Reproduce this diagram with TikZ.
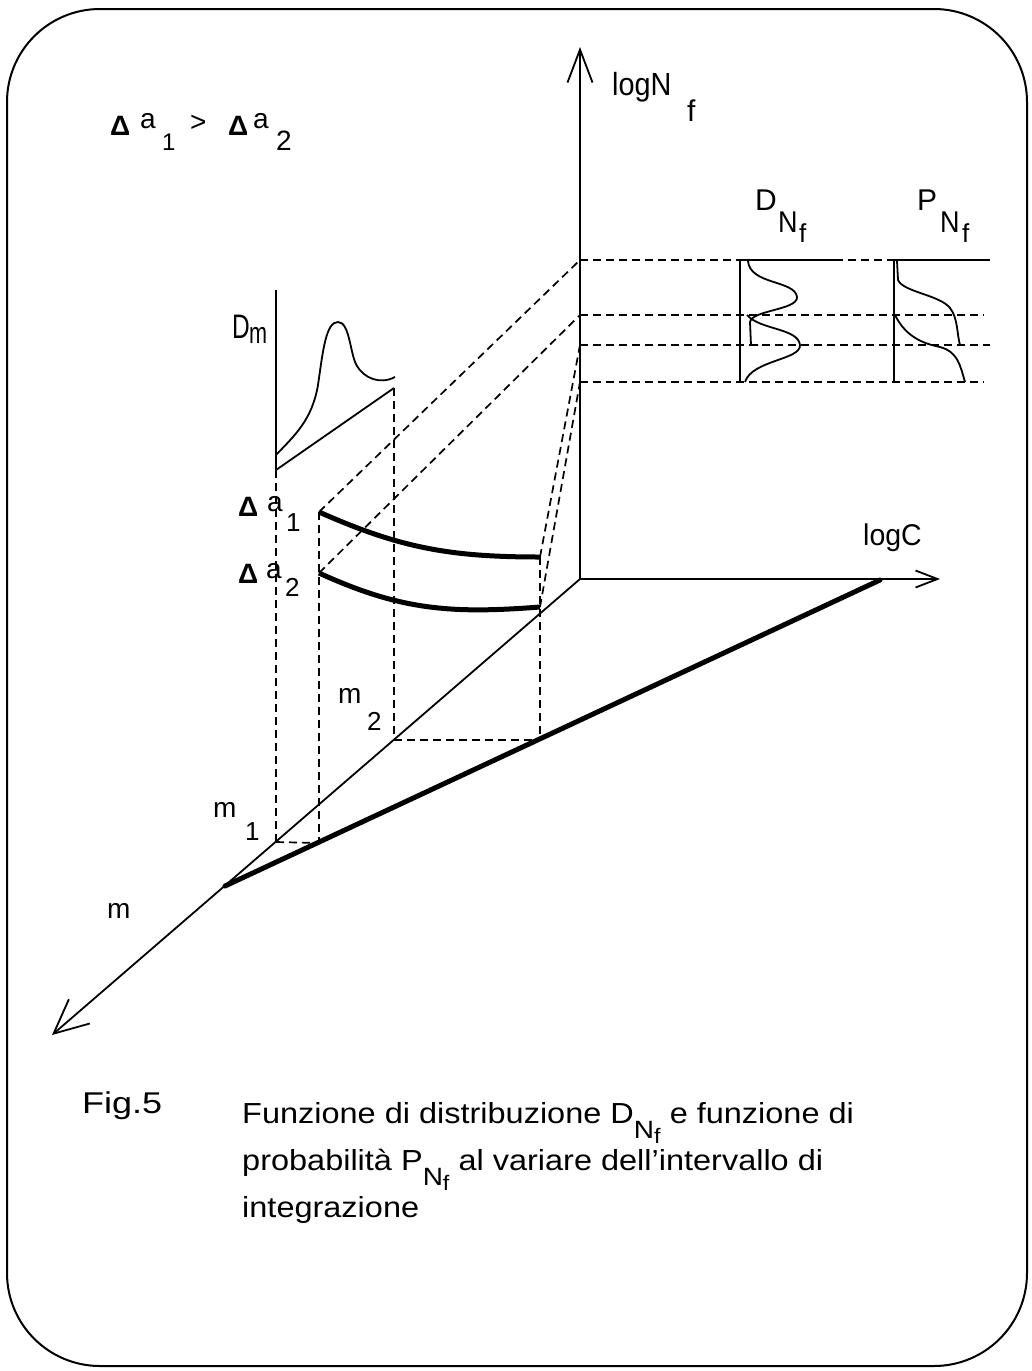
\documentclass[tikz,border=0pt]{standalone}
\usepackage{fontspec}
\setmainfont{Liberation Sans}
\usetikzlibrary{arrows.meta}
\newcommand\sbx[2]{\raisebox{#1}{#2}}
\newcommand\hsc[2]{\scalebox{#1}[1]{#2}}
\newcommand\capNf{\sbx{-15pt}{\fontsize{25}{28}\selectfont N\sbx{-5pt}{\fontsize{21}{24}\selectfont f}}}
\begin{document}
\begin{tikzpicture}[x=1pt,y=-1pt,
  axisline/.style={line width=1.8pt},
  fine/.style={line width=1.8pt},
  heavy/.style={line width=5pt},
  dashline/.style={line width=1.7pt, dash pattern=on 8pt off 5pt},
  txt/.style={inner sep=0pt, anchor=base west},
  f24/.style={txt, font=\fontsize{24}{28}\selectfont},
  f26/.style={txt, font=\fontsize{26}{30}\selectfont},
  f28/.style={txt, font=\fontsize{28}{34}\selectfont},
  f30/.style={txt, font=\fontsize{30}{36}\selectfont},
  f32/.style={txt, font=\fontsize{32}{38}\selectfont},
  f34/.style={txt, font=\fontsize{34}{40}\selectfont},
  frame/.style={line width=2pt, rounded corners=93pt}]
\useasboundingbox (0,0) rectangle (1031,1371);
\draw[frame] (7,9) rectangle (1027,1366);

% key points
\coordinate (O) at (580,579);
\coordinate (Ntip) at (580,47);
\coordinate (Ctip) at (940,579);
\coordinate (Mtip) at (52,1035);
\coordinate (T0) at (225,886);
\coordinate (T1) at (880,580);
\coordinate (DmT) at (276,290);
\coordinate (DmB) at (276,470);
\coordinate (DmE) at (394,388);
\coordinate (M1) at (276,842);
\coordinate (B1) at (319,843);
\coordinate (M2) at (394,740);
\coordinate (B2) at (540,740);
\coordinate (A1) at (319,512);
\coordinate (A1e) at (540,557);
\coordinate (A2) at (319,573);
\coordinate (A2e) at (540,607);
\coordinate (L1) at (580,260);
\coordinate (L2) at (580,315);
\coordinate (L3) at (580,345);
\coordinate (L4) at (580,382);
\coordinate (DB1) at (740,260);
\coordinate (DB4) at (740,382);
\coordinate (DE1) at (835,260);
\coordinate (PB1) at (894,260);
\coordinate (PB4) at (894,382);
\coordinate (PE1) at (990,260);
\coordinate (R2) at (984,315);
\coordinate (R3) at (990,345);
\coordinate (R4) at (984,382);

% axes
\draw[axisline, -{Straight Barb[length=33pt,width=25pt]}] (O) -- (Ntip);
\draw[axisline, -{Straight Barb[length=22pt,width=17pt]}] (O) -- (Ctip);
\draw[axisline, -{Straight Barb[length=34pt,width=32pt]}] (O) -- (Mtip);

% thick line in m-logC plane
\draw[heavy, line cap=round] (T0) -- (T1);

% projections to the m-logC plane
\draw[dashline] (M1) -- (B1);
\draw[dashline] (M2) -- (B2);
\draw[dashline] (DmB) -- (M1);
\draw[dashline] (A1) -- (B1);
\draw[dashline] (DmE) -- (M2);
\draw[dashline] (A1e) -- (B2);

% D_m distribution
\draw[fine] (DmT) -- (DmB) -- (DmE);
\draw[fine] (276,455) .. controls (295,435) and (312,420) .. (318,385)
  .. controls (323,350) and (326,322) .. (338,322)
  .. controls (350,322) and (350,355) .. (357,366)
  .. controls (364,378) and (380,385) .. (395,377);

% Delta a curves
\draw[heavy] (A1) .. controls (400,548) and (450,557) .. (A1e);
\draw[heavy] (A2) .. controls (400,610) and (450,614) .. (A2e);

% projections to logN axis
\draw[dashline] (A1) -- (L1);
\draw[dashline] (A2) -- (L2);
\draw[dashline] (A1e) -- (L3);
\draw[dashline] (A2e) -- (L4);

% levels
\draw[dashline] (L1) -- (DB1);
\draw[fine] (DB1) -- (DE1);
\draw[dashline] (DE1) -- (PB1);
\draw[fine] (PB1) -- (PE1);
\draw[dashline] (L2) -- (R2);
\draw[dashline] (L3) -- (R3);
\draw[dashline] (L4) -- (R4);

% D_Nf box and curves
\draw[fine] (DB1) -- (DB4);
\draw[fine] (748,261) .. controls (750,285) and (795,280) .. (797,297)
  .. controls (798,310) and (752,310) .. (750,322) -- (751,345) -- (758,345);
\draw[fine] (747,315) .. controls (760,330) and (798,328) .. (800,345)
  .. controls (801,360) and (752,360) .. (745,382);

% P_Nf box and curves
\draw[fine] (PB1) -- (PB4);
\draw[fine] (897,261) -- (898,280) .. controls (903,292) and (940,295) .. (950,308)
  .. controls (958,318) and (957,335) .. (960,345) -- (964,345);
\draw[fine] (895,315) .. controls (905,335) and (920,343) .. (940,347)
  .. controls (958,352) and (960,365) .. (965,382);

% axis labels
\node[f32] (lN) at (612,95) {\hsc{0.9}{logN}};
\node[f30] (lNf) at (687,121) {f};
\node[f30] (lC) at (863,545) {\hsc{0.95}{logC}};

% D_Nf and P_Nf labels
\node[f30] (lD) at (755,210) {D};
\node[f30] (lDN) at (778,232) {\hsc{0.9}{N}};
\node[f26] (lDf) at (799,242) {f};
\node[f30] (lP) at (917,210) {P};
\node[f30] (lPN) at (940,232) {\hsc{0.9}{N}};
\node[f26] (lPf) at (962,242) {f};

% D_m label
\node[f34] (lDm) at (232,338) {\hsc{0.72}{D}};
\node[f30] (lDmm) at (249,343) {\hsc{0.72}{m}};

% Delta a labels on the left
\node[f28] (tA1d) at (110,135) {\bfseries Δ};
\node[f28] (tA1a) at (140,128) {a};
\node[f24] (tA1s) at (162,150) {1};
\node[f28] (tgt) at (190,131) {>};
\node[f28] (tA2d) at (228,135) {\bfseries Δ};
\node[f28] (tA2a) at (253,128) {a};
\node[f28] (tA2s) at (276,150) {2};

\node[f28] (lA1d) at (238,516) {\bfseries Δ};
\node[f28] (lA1a) at (267,511) {a};
\node[f26] (lA1s) at (286,531) {1};
\node[f28] (lA2d) at (238,583) {\bfseries Δ};
\node[f28] (lA2a) at (266,578) {a};
\node[f26] (lA2s) at (285,596) {2};

% m labels
\node[f28] (lm2) at (338,703) {m};
\node[f26] (lm2s) at (367,730) {2};
\node[f28] (lm1) at (213,817) {m};
\node[f26] (lm1s) at (245,840) {1};
\node[f28] (lm) at (107,918) {m};

% caption
\node[f30] (fig) at (82,1113) {\hsc{1.2}{Fig.5}};
\node[txt, font=\fontsize{29}{34}\selectfont] (c1) at (242,1123)
  {\hsc{1.12}{Funzione di distribuzione D\capNf{} e funzione di}};
\node[txt, font=\fontsize{29}{34}\selectfont] (c2) at (242,1170)
  {\hsc{1.12}{probabilità P\capNf{} al variare dell’intervallo di}};
\node[txt, font=\fontsize{29}{34}\selectfont] (c3) at (242,1217)
  {\hsc{1.12}{integrazione}};
\end{tikzpicture}
\end{document}
